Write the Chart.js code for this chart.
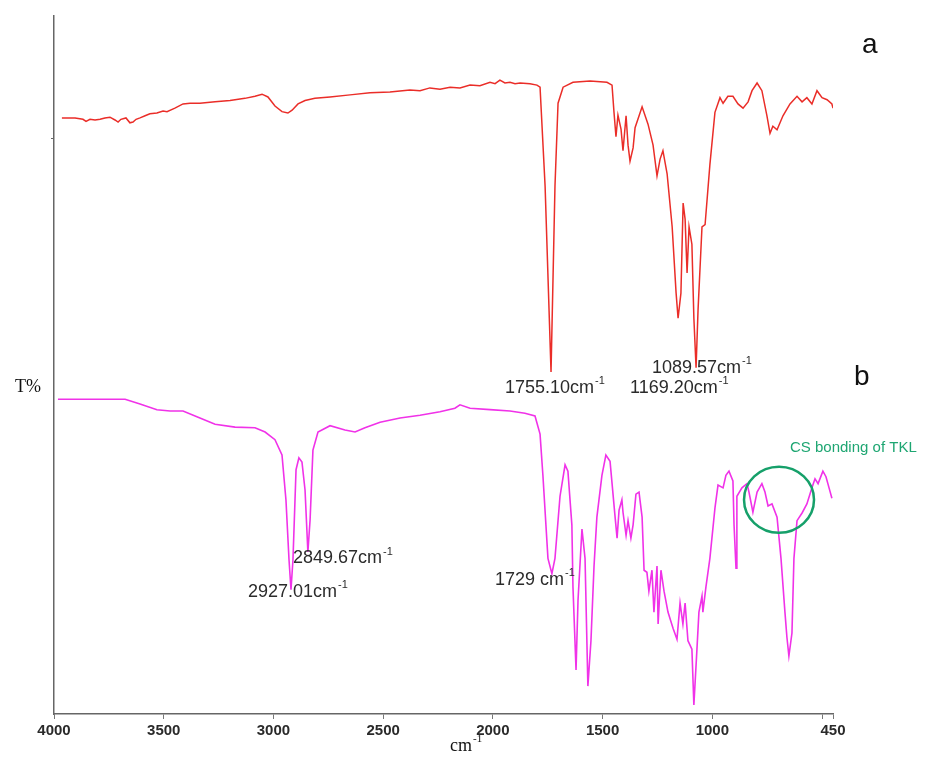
<!DOCTYPE html>
<html lang="en">
<head>
<meta charset="UTF-8">
<title>FTIR spectra</title>
<style>
  body { margin: 0; background: #fff; }
  #wrap { width: 941px; height: 762px; position: relative; }
</style>
</head>
<body>
<div id="wrap"><canvas id="ftir"></canvas></div>

<script src="https://cdn.jsdelivr.net/npm/chart.js"></script>
<script>
// spectrum a (red) - wavenumber (cm-1) and transmittance (arb. %)
const wnA = [3964, 3904, 3868, 3854, 3836, 3813, 3790, 3768, 3745, 3722, 3708, 3695, 3672, 3654, 3640, 3626, 3608, 3585, 3563, 3531,
  3503, 3485, 3449, 3412, 3380, 3335, 3266, 3198, 3130, 3084, 3052, 3025, 2993, 2961, 2934, 2915, 2888, 2856, 2811, 2742,
  2651, 2560, 2469, 2378, 2332, 2287, 2241, 2195, 2150, 2104, 2059, 2013, 1990, 1968, 1945, 1922, 1899, 1876, 1831, 1799,
  1785, 1762, 1735, 1717, 1703, 1680, 1635, 1557, 1480, 1457, 1448, 1439, 1430, 1416, 1407, 1393, 1384, 1375, 1361, 1352,
  1320, 1293, 1270, 1252, 1238, 1225, 1206, 1183, 1165, 1156, 1143, 1133, 1124, 1115, 1106, 1093, 1084, 1074, 1065, 1047,
  1033, 1011, 988, 965, 951, 929, 906, 883, 860, 837, 819, 796, 774, 751, 737, 724, 705, 678, 646, 614,
  591, 569, 546, 523, 500, 477, 455, 450];
const tA = [85.4, 85.4, 85.2, 84.9, 85.2, 85.1, 85.2, 85.4, 85.5, 85.1, 84.8, 85.2, 85.4, 84.7, 84.8, 85.2, 85.4, 85.7, 86.0, 86.1,
  86.4, 86.3, 86.8, 87.4, 87.5, 87.5, 87.7, 87.9, 88.2, 88.5, 88.8, 88.4, 87.1, 86.3, 86.1, 86.5, 87.4, 87.9, 88.2, 88.4,
  88.7, 89.0, 89.1, 89.4, 89.3, 89.7, 89.5, 89.8, 89.7, 90.1, 90.0, 90.5, 90.3, 90.8, 90.4, 90.5, 90.3, 90.4, 90.3, 90.1,
  89.8, 75.6, 49.0, 75.6, 87.5, 89.8, 90.5, 90.7, 90.5, 90.1, 86.2, 82.7, 85.8, 83.8, 80.7, 85.7, 81.5, 79.2, 81.1, 84.0,
  87.0, 84.5, 81.5, 77.1, 79.5, 80.7, 77.4, 69.8, 60.3, 56.7, 60.3, 73.2, 70.9, 63.2, 69.8, 67.3, 56.7, 49.6, 57.9, 69.8,
  70.1, 78.7, 86.2, 88.3, 87.5, 88.5, 88.5, 87.4, 86.8, 87.7, 89.3, 90.4, 89.3, 85.7, 83.2, 84.2, 83.7, 85.7, 87.4, 88.5,
  87.7, 88.3, 87.4, 89.3, 88.3, 88.0, 87.4, 86.8];

// spectrum b (magenta)
const wnB = [3982, 3676, 3608, 3531, 3471, 3412, 3335, 3266, 3175, 3084, 3038, 2993, 2961, 2943, 2929, 2920, 2911, 2897, 2884, 2870,
  2856, 2843, 2833, 2820, 2797, 2742, 2674, 2628, 2583, 2514, 2423, 2332, 2241, 2173, 2150, 2104, 2013, 1922, 1854, 1808,
  1785, 1772, 1749, 1731, 1717, 1694, 1671, 1658, 1640, 1635, 1621, 1612, 1594, 1580, 1567, 1553, 1539, 1526, 1503, 1485,
  1466, 1443, 1434, 1425, 1412, 1407, 1393, 1384, 1371, 1361, 1348, 1334, 1320, 1311, 1298, 1289, 1275, 1266, 1252, 1247,
  1234, 1220, 1202, 1179, 1161, 1147, 1134, 1124, 1111, 1093, 1084, 1070, 1061, 1047, 1043, 1029, 1011, 988, 974, 951,
  938, 924, 906, 901, 892, 888, 865, 842, 833, 815, 796, 774, 760, 746, 728, 705, 687, 669, 660, 651,
  637, 628, 614, 591, 569, 546, 532, 518, 496, 482, 468, 455];
const tB = [45.1, 45.1, 44.4, 43.6, 43.4, 43.4, 42.4, 41.5, 41.1, 41.0, 40.4, 39.3, 37.1, 30.7, 22.1, 17.8, 22.1, 35.0, 36.7, 36.1,
  32.1, 23.2, 27.8, 37.8, 40.4, 41.3, 40.7, 40.4, 41.0, 41.8, 42.4, 42.8, 43.3, 43.8, 44.3, 43.8, 43.6, 43.4, 43.1, 42.7,
  40.1, 34.2, 22.3, 20.1, 22.3, 31.2, 35.7, 34.8, 27.1, 18.2, 6.3, 16.3, 26.5, 22.3, 4.0, 10.5, 21.2, 28.2, 34.2, 37.1,
  36.2, 28.2, 25.2, 29.2, 30.7, 28.9, 25.6, 27.7, 25.2, 27.1, 31.5, 31.8, 28.2, 20.6, 20.3, 17.6, 20.6, 14.6, 21.2, 12.9,
  20.6, 17.6, 14.6, 12.3, 10.7, 15.9, 12.9, 15.9, 10.5, 9.3, 1.3, 9.3, 14.6, 16.9, 14.6, 18.2, 22.3, 29.5, 32.8, 32.4,
  34.2, 34.8, 33.4, 27.1, 20.9, 31.2, 32.4, 33.0, 31.8, 28.9, 31.8, 33.0, 31.8, 29.8, 30.1, 28.2, 22.3, 14.6, 11.0, 8.3,
  11.6, 22.3, 27.7, 28.8, 30.1, 32.4, 33.7, 33.0, 34.8, 34.0, 32.4, 30.9];

const xTicks = [4000, 3500, 3000, 2500, 2000, 1500, 1000, 500, 450];
const xTickLabels = ['4000', '3500', '3000', '2500', '2000', '1500', '1000', '', '450'];
const yTicks = [82.4];

// peak annotations: text, anchor wavenumber / transmittance (left edge, middle)
const peakLabels = [
  { text: '1755.10cm', wn: 1945, t: 46.7 },
  { text: '1169.20cm', wn: 1375, t: 46.7 },
  { text: '1089.57cm', wn: 1275, t: 49.6 },
  { text: '2849.67cm', wn: 2911, t: 22.3 },
  { text: '2927.01cm', wn: 3116, t: 17.5 },
  { text: '1729 cm', wn: 1990, t: 19.2 }
];
const curveTags = [
  { text: 'a', wn: 282, t: 95.8 },
  { text: 'b', wn: 319, t: 48.3 }
];

const toPoints = (xs, ys) => xs.map((x, i) => ({ x: x, y: ys[i] }));

function drawSup(ctx, base, sup, x, y, size, font) {
  ctx.font = size + 'px ' + font;
  ctx.fillText(base, x, y);
  const w = ctx.measureText(base).width;
  ctx.font = Math.round(size * 0.6) + 'px ' + font;
  ctx.fillText(sup, x + w + 1, y - size * 0.38);
}

const extras = {
  id: 'extras',
  afterDraw(chart) {
    const ctx = chart.ctx, xs = chart.scales.x, ys = chart.scales.y;
    ctx.save();
    ctx.textBaseline = 'middle';
    ctx.textAlign = 'left';
    ctx.fillStyle = '#2b2b2b';
    peakLabels.forEach(p => {
      drawSup(ctx, p.text, '-1', xs.getPixelForValue(p.wn), ys.getPixelForValue(p.t), 18, '"Liberation Sans", Arial, sans-serif');
    });
    ctx.font = '28px "Liberation Sans", Arial, sans-serif';
    ctx.fillStyle = '#111';
    ctx.textAlign = 'center';
    curveTags.forEach(c => ctx.fillText(c.text, xs.getPixelForValue(c.wn), ys.getPixelForValue(c.t)));

    // CS bonding note + circle
    ctx.textAlign = 'left';
    ctx.fillStyle = '#1ea672';
    ctx.font = '15px "Liberation Sans", Arial, sans-serif';
    ctx.fillText('CS bonding of TKL', xs.getPixelForValue(646), ys.getPixelForValue(38.1));
    ctx.strokeStyle = '#16a06a';
    ctx.lineWidth = 2.5;
    ctx.beginPath();
    ctx.ellipse(xs.getPixelForValue(696), ys.getPixelForValue(30.7), 35, 33, 0, 0, Math.PI * 2);
    ctx.stroke();

    // axis titles
    ctx.fillStyle = '#111';
    ctx.font = '18px "Liberation Serif", "Times New Roman", serif';
    ctx.textAlign = 'center';
    ctx.fillText('T%', 28, 387);
    ctx.textAlign = 'left';
    drawSup(ctx, 'cm', '-1', 450, 746, 18, '"Liberation Serif", "Times New Roman", serif');
    ctx.restore();
  }
};

new Chart(document.getElementById('ftir'), {
  type: 'line',
  data: {
    datasets: [
      { label: 'a', data: toPoints(wnA, tA), borderColor: 'rgb(234,45,40)', borderWidth: 1.5, pointRadius: 0, tension: 0 },
      { label: 'b', data: toPoints(wnB, tB), borderColor: 'rgb(240,50,232)', borderWidth: 1.6, pointRadius: 0, tension: 0 }
    ]
  },
  options: {
    responsive: true,
    maintainAspectRatio: false,
    animation: false,
    layout: { padding: { top: 16, right: 108, left: 0, bottom: 0 } },
    plugins: { legend: { display: false }, tooltip: { enabled: false } },
    scales: {
      x: {
        type: 'linear',
        reverse: true,
        min: 450,
        max: 4000,
        afterBuildTicks: s => { s.ticks = xTicks.map(v => ({ value: v })); },
        afterFit: s => { s.height = 48; },
        ticks: {
          autoSkip: false,
          maxRotation: 0,
          padding: 3,
          color: '#2a2a2a',
          font: { family: '"Liberation Sans", Arial, sans-serif', size: 15, weight: 'bold' },
          callback: v => xTickLabels[xTicks.indexOf(v)]
        },
        grid: { drawOnChartArea: false, drawTicks: true, tickLength: 5, color: '#777' },
        border: { display: true, color: '#666', width: 1.5 }
      },
      y: {
        min: 0,
        max: 100,
        afterBuildTicks: s => { s.ticks = yTicks.map(v => ({ value: v })); },
        afterFit: s => { s.width = 54; },
        ticks: { display: false },
        grid: { drawOnChartArea: false, drawTicks: true, tickLength: 3, color: '#666' },
        border: { display: true, color: '#666', width: 1.5 }
      }
    }
  },
  plugins: [extras]
});
</script>
</body>
</html>
